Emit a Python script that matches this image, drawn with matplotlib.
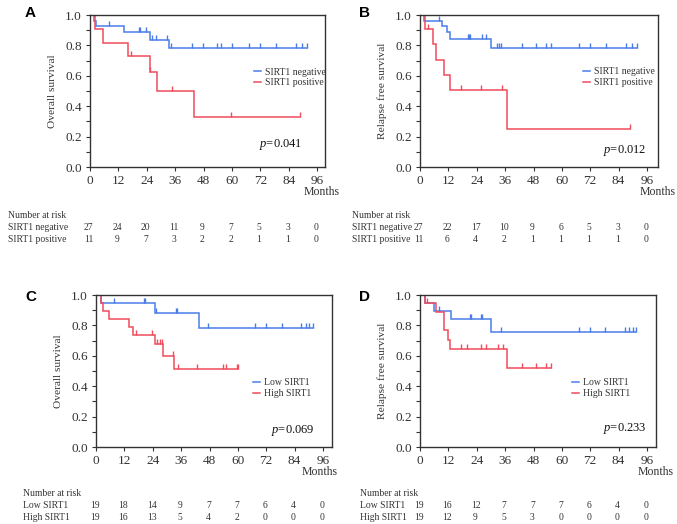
import matplotlib
matplotlib.use("Agg")
import matplotlib.pyplot as plt
import numpy as np
from matplotlib.transforms import blended_transform_factory

plt.rcParams['font.family'] = ['Liberation Serif', 'DejaVu Serif']
plt.rcParams['mathtext.fontset'] = 'custom'
plt.rcParams['mathtext.it'] = 'Liberation Serif:italic'
plt.rcParams['mathtext.rm'] = 'Liberation Serif'

# ---------------- data ----------------
month_ticks = [0, 12, 24, 36, 48, 60, 72, 84, 96]

# Panel A: overall survival, SIRT1 negative / positive
A_neg_t = [0, 1.5, 2.5, 14.2, 25.2, 33.3]
A_neg_s = [1.0, 0.963, 0.926, 0.887, 0.838, 0.781]
A_neg_end = 91.8
A_neg_cens = [7.9, 20.6, 21.0, 23.8, 26.2, 28.0, 32.6, 34.1, 43.1, 47.8, 53.8,
              55.3, 60.0, 67.2, 71.7, 78.8, 87.2, 89.8, 91.8]
A_pos_t = [0, 2.3, 5.5, 16.0, 25.2, 28.5, 43.8]
A_pos_s = [1.0, 0.909, 0.818, 0.727, 0.623, 0.498, 0.332]
A_pos_end = 88.6
A_pos_cens = [17.5, 25.5, 34.8, 59.8, 88.6]
A_risk_neg = [27, 24, 20, 11, 9, 7, 5, 3, 0]
A_risk_pos = [11, 9, 7, 3, 2, 2, 1, 1, 0]

# Panel B: relapse free survival, SIRT1 negative / positive
B_neg_t = [0, 1.7, 9.3, 11.5, 12.7, 30.2]
B_neg_s = [1.0, 0.963, 0.926, 0.889, 0.843, 0.781]
B_neg_end = 91.8
B_neg_cens = [7.9, 20.3, 20.7, 21.0, 26.4, 28.0, 32.6, 33.4, 34.1, 43.1, 49.2,
              53.4, 55.3, 67.2, 71.7, 78.8, 87.0, 89.8, 91.8]
B_pos_t = [0, 2.0, 5.5, 6.9, 10.1, 12.7, 36.8]
B_pos_s = [1.0, 0.909, 0.808, 0.707, 0.606, 0.505, 0.253]
B_pos_end = 88.6
B_pos_cens = [3.4, 17.5, 25.7, 34.8, 88.6]
B_risk_neg = [27, 22, 17, 10, 9, 6, 5, 3, 0]
B_risk_pos = [11, 6, 4, 2, 1, 1, 1, 1, 0]

# Panel C: overall survival, Low / High SIRT1
C_low_t = [0, 2.3, 25.0, 43.7]
C_low_s = [1.0, 0.947, 0.884, 0.786]
C_low_end = 91.8
C_low_cens = [7.6, 20.3, 20.7, 25.5, 33.7, 34.2, 47.5, 67.2, 71.7, 78.8, 86.8,
              88.7, 90.1, 91.8]
C_high_t = [0, 2.3, 3.1, 5.5, 14.0, 15.8, 25.0, 28.5, 33.1]
C_high_s = [1.0, 0.947, 0.895, 0.842, 0.789, 0.737, 0.680, 0.600, 0.516]
C_high_end = 60.0
C_high_cens = [17.0, 23.5, 25.9, 26.9, 28.0, 32.4, 34.5, 42.8, 53.7, 55.1, 59.5, 60.0]
C_risk_low = [19, 18, 14, 9, 7, 7, 6, 4, 0]
C_risk_high = [19, 16, 13, 5, 4, 2, 0, 0, 0]

# Panel D: relapse free survival, Low / High SIRT1
D_low_t = [0, 2.3, 5.9, 13.0, 30.2]
D_low_s = [1.0, 0.947, 0.895, 0.839, 0.755]
D_low_end = 91.5
D_low_cens = [8.0, 21.0, 21.4, 25.9, 26.3, 34.1, 67.2, 71.7, 78.4, 86.6, 88.4,
              90.1, 91.5]
D_high_t = [0, 2.3, 6.9, 10.0, 12.0, 12.8, 36.8]
D_high_s = [1.0, 0.947, 0.891, 0.768, 0.707, 0.647, 0.522]
D_high_end = 55.3
D_high_cens = [3.0, 17.5, 20.0, 25.9, 28.0, 33.0, 35.1, 43.3, 49.2, 53.4, 55.3]
D_risk_low = [19, 16, 12, 7, 7, 7, 6, 4, 0]
D_risk_high = [19, 12, 9, 5, 3, 0, 0, 0, 0]

BLUE = '#4a7de8'
RED = '#f04c5c'
GRAY = '#333333'

W, H = 677, 524
fig = plt.figure(figsize=(W / 100, H / 100), dpi=100)

PX_PER_MONTH = 227 / 96.0
TICK_MARK = [(0, 0), (0, 1)]
RISK_FS = 6.9


def fx(px):
    return px / W


def fy(py):
    return 1 - py / H


def km(ax, t, s, end, cens, color, label):
    tt = list(t) + [end]
    ss = list(s) + [s[-1]]
    ax.step(tt, ss, where='post', color=color, lw=1.1, label=label,
            solid_joinstyle='miter')
    t_arr = np.asarray(t)
    lvl = [s[np.searchsorted(t_arr, c, side='right') - 1] for c in cens]
    ax.plot(cens, lvl, linestyle='none', marker=TICK_MARK, markersize=7.5,
            markeredgewidth=1.0, color=color)


def panel(box, letter, ylabel, curves, pval, leg_xy, risk, risk_names,
          risk_label_x, risk_ys, months_xy, letter_xy, p_xy):
    left, right, top, bottom = box
    ax = fig.add_axes([fx(left), fy(bottom), fx(right - left), (bottom - top) / H])
    for (t, s, end, cens, color, label) in curves:
        km(ax, t, s, end, cens, color, label)
    ax.set_xlim(0, (right - left) / PX_PER_MONTH)
    ax.set_ylim(0, 1.0)
    ax.set_xticks(month_ticks)
    ax.set_yticks(np.arange(0, 1.01, 0.2))
    ax.set_yticks(np.arange(0.1, 1.0, 0.2), minor=True)
    ax.set_yticklabels(['%.1f' % v for v in np.arange(0, 1.01, 0.2)])
    ax.tick_params(axis='both', which='both', direction='out', length=3,
                   width=0.8, colors=GRAY, labelsize=9.5, pad=3)
    for sp in ax.spines.values():
        sp.set_color(GRAY)
        sp.set_linewidth(1.0)
    ax.set_ylabel(ylabel, fontsize=8.2, color=GRAY, labelpad=6)
    leg = ax.legend(loc='center left', bbox_to_anchor=(fx(leg_xy[0]), fy(leg_xy[1])),
                    bbox_transform=fig.transFigure, frameon=False, fontsize=7.0,
                    handlelength=0.75, handletextpad=0.4, labelspacing=0.2,
                    borderpad=0, borderaxespad=0)
    for txt in leg.get_texts():
        txt.set_color(GRAY)
    fig.text(fx(p_xy[0]), fy(p_xy[1]), r'$\mathit{p}$=' + pval, fontsize=9,
             ha='right', va='center', color='#111111')
    fig.text(fx(letter_xy[0]), fy(letter_xy[1]), letter, fontsize=11,
             fontweight='bold', family='Liberation Sans', ha='center', va='center')
    fig.text(fx(months_xy[0]), fy(months_xy[1]), 'Months', fontsize=8.5,
             ha='right', va='center', color=GRAY)
    # number at risk table
    fig.text(fx(risk_label_x), fy(risk_ys[0]), 'Number at risk', fontsize=RISK_FS,
             ha='left', va='center', color=GRAY)
    trans = blended_transform_factory(ax.transData, fig.transFigure)
    for name, row, yy in zip(risk_names, risk, risk_ys[1:]):
        fig.text(fx(risk_label_x), fy(yy), name, fontsize=RISK_FS, ha='left',
                 va='center', color=GRAY)
        for m, n in zip(month_ticks, row):
            ax.text(m - 0.5, fy(yy), str(n), fontsize=RISK_FS, ha='center',
                    va='center', color=GRAY, transform=trans)
    return ax


panel((90, 325, 15, 167), 'A', 'Overall survival',
      [(A_neg_t, A_neg_s, A_neg_end, A_neg_cens, BLUE, 'SIRT1 negative'),
       (A_pos_t, A_pos_s, A_pos_end, A_pos_cens, RED, 'SIRT1 positive')],
      '0.041', (254, 77.5), [A_risk_neg, A_risk_pos],
      ['SIRT1 negative', 'SIRT1 positive'], 8, (216, 228, 239),
      (340, 192), (30, 13), (302, 145))

panel((420, 658, 15, 167), 'B', 'Relapse free survival',
      [(B_neg_t, B_neg_s, B_neg_end, B_neg_cens, BLUE, 'SIRT1 negative'),
       (B_pos_t, B_pos_s, B_pos_end, B_pos_cens, RED, 'SIRT1 positive')],
      '0.012', (583, 77), [B_risk_neg, B_risk_pos],
      ['SIRT1 negative', 'SIRT1 positive'], 352, (216, 228, 239),
      (676, 192), (364, 13), (646, 150))

panel((96, 332, 295, 447), 'C', 'Overall survival',
      [(C_low_t, C_low_s, C_low_end, C_low_cens, BLUE, 'Low SIRT1'),
       (C_high_t, C_high_s, C_high_end, C_high_cens, RED, 'High SIRT1')],
      '0.069', (253, 388), [C_risk_low, C_risk_high],
      ['Low SIRT1', 'High SIRT1'], 23, (493, 505, 517),
      (338, 472), (31, 297), (315, 430))

panel((420, 656, 295, 447), 'D', 'Relapse free survival',
      [(D_low_t, D_low_s, D_low_end, D_low_cens, BLUE, 'Low SIRT1'),
       (D_high_t, D_high_s, D_high_end, D_high_cens, RED, 'High SIRT1')],
      '0.233', (572, 388), [D_risk_low, D_risk_high],
      ['Low SIRT1', 'High SIRT1'], 360, (493, 505, 517),
      (674, 472), (364, 297), (647, 429))

fig.savefig('out.png', dpi=100)
